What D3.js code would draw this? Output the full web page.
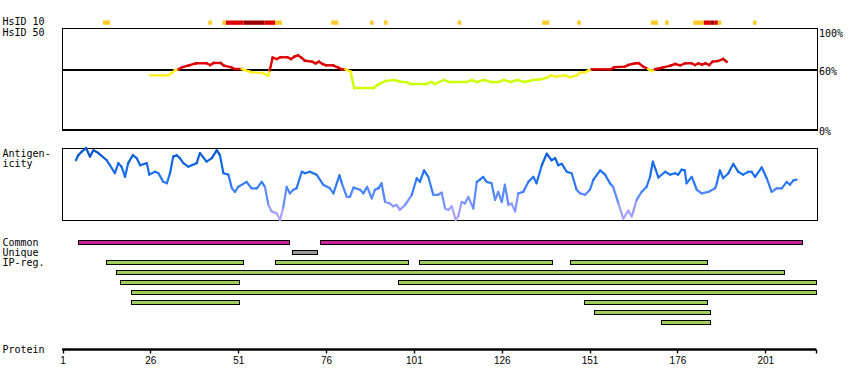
<!DOCTYPE html>
<html><head><meta charset="utf-8">
<script src="https://cdn.jsdelivr.net/npm/d3@7"></script>
<style>body{margin:0;background:#fff}</style>
</head><body>
<svg id="c" width="850" height="390"></svg>
<script>
// ---------- DATA ----------
const proteinLength = 215;
const tickValues = [1, 26, 51, 76, 101, 126, 151, 176, 201];
const identityTicks = [100, 60, 0];
const identityThreshold = 60;

// HsID 10 blocks (residue ranges, identity level 1=low,2=mid,3=high)
const hsid10Start = [13, 43, 47, 48, 53, 59, 62, 78, 89, 93, 114, 138, 148, 169, 173, 181, 184, 186, 187, 188, 198];
const hsid10End   = [14, 43, 47, 52, 58, 61, 63, 79, 89, 93, 114, 139, 148, 170, 173, 183, 185, 186, 187, 188, 198];
const hsid10Level = [1, 1, 1, 2, 3, 2, 1, 1, 1, 1, 1, 1, 1, 1, 1, 1, 2, 3, 2, 1, 1];

// HsID 50 identity profile (%)
const hsid50Pos = [26,31,32,33,34,35,37,39,42,43,44,46,47,49,50,52,53,54,55,58,59.5,60,60.8,62,63,65,66,67,68,69,70,72,73,74,75,76,78,79.5,80.5,81.5,82,83,83.3,84,89.5,90.5,91.5,93,95.5,97,99,100,104.5,106,107,109.5,111,116,117.5,119,121,123,125,126.5,128.5,130.5,132.5,135,137,139,140,141.5,144,145.5,147.4,148.3,149.7,150.6,151.6,157,158,161,162,164,165,166.3,167.7,168.7,169.6,170.6,172,174,175.3,176.8,178.2,180,181,182,183,184,185,186,187.5,189,190];
const hsid50Val = [54.7,54.7,56.7,59.7,60.7,62.7,64.7,66.7,66.7,65,67,67,64.3,62.7,61,61,59.7,58.7,57.7,57,54.3,60,72.3,71,72.7,72.7,71,73.3,74.7,72.3,69.3,68.3,66.7,68.3,66,64.7,64.7,62.3,60.7,60.7,59.8,58.3,53.3,42,42,44.7,46.7,49,50,48.3,47.7,46,46,48,46,50,48,48,50,48,50,48,48,50,48,50,48,50,50.7,52.3,54.7,53.3,54.7,52.7,54.7,57.3,57.7,59.3,60.7,60.7,62.7,63.3,65,66.7,66.7,63.3,61,59,60.7,61.3,62.7,64.3,66,64.7,66.7,66.7,65,66.7,65.3,66.7,65,68.3,69,71,68.3];

// Antigenicity profile (relative score 0-100)
const antiPos = [4.8,5.5,6.5,7.7,8.8,9.8,11.2,13.6,14.5,15.9,16.9,17.8,18.8,19.7,21.0,22.1,23.1,25.0,25.7,27.3,28.3,29.7,30.7,31.6,32.5,33.5,34.4,35.4,36.8,37.8,39.2,40.1,42.0,43.5,44.9,45.8,46.8,48.2,49.2,50.1,51.0,53.4,54.8,56.3,57.7,58.6,59.6,60.5,62.0,62.9,63.8,64.8,65.7,66.7,67.6,69.1,70.0,71.4,73.3,75.2,77.1,78.1,79.8,80.5,81.9,82.8,83.8,85.7,86.6,87.7,89.0,89.9,90.9,91.8,92.8,94.2,95.1,96.1,97.0,98.5,100.4,101.8,102.7,103.9,105.1,106.5,107.9,108.9,109.9,110.8,111.8,112.9,113.6,114.6,115.5,116.5,117.9,118.9,119.8,120.7,121.7,123.1,124.1,125.0,126.0,126.9,127.9,128.8,129.8,130.7,132.1,133.6,135.0,135.9,137.4,138.8,140.2,141.2,142.1,143.1,144.5,145.9,147.3,148.3,149.7,151.1,152.1,154.0,155.4,156.8,157.7,159.2,160.6,162.0,163.0,164.4,165.8,167.2,168.2,169.0,170.6,172.5,173.9,175.3,176.2,177.2,178.1,178.6,180.1,181.5,182.9,184.8,186.7,187.2,188.1,189.0,190.5,191.9,193.3,194.7,196.2,197.1,198.1,200.0,201.4,202.8,204.2,205.7,207.1,208.0,209.0,209.9];
const antiVal = [83,90,95,100,88,97,93,83,76,65,79,74,60,79,90,86,76,79,63,67,65,53,51,65,88,90,86,79,74,76,79,93,81,86,97,90,65,63,44,39,46,53,44,44,53,46,21,12,9,0,17,46,37,42,44,67,65,67,63,49,44,37,62,51,32,32,45,42,37,46,30,42,44,51,25,23,19,21,14,21,35,58,53,69,60,35,35,38,16,14,19,0,5,25,23,32,16,53,56,60,53,51,28,39,25,49,21,23,12,37,39,53,60,51,76,92,83,86,76,78,67,65,42,37,35,42,56,69,63,51,46,23,2,13,5,28,39,46,60,81,59,67,63,65,63,70,69,51,60,42,37,39,44,51,69,58,65,78,67,63,67,67,60,73,58,39,44,44,53,49,55,56];

// Region tracks (residue ranges)
const commonStart = [6, 75];
const commonEnd   = [65, 211];
const uniqueStart = [67];
const uniqueEnd   = [73];
const ipRow   = [0, 0, 0, 0, 1, 2, 2, 3, 4, 4, 5, 6];
const ipStart = [14, 62, 103, 146, 17, 18, 97, 21, 21, 150, 153, 172];
const ipEnd   = [52, 99, 140, 184, 206, 51, 215, 215, 51, 184, 185, 185];

// ---------- DRAWING ----------
const svg = d3.select("#c");
const mono = "'DejaVu Sans Mono', monospace";
const x = d3.scaleLinear().domain([1, 216]).range([62.5, 818]);

const yId = d3.scaleLinear().domain([0, 100]).range([130, 30]);
const yAn = d3.scaleLinear().domain([0, 100]).range([220, 148]);

// left labels
const labels = [["HsID 10", 25], ["HsID 50", 36], ["Antigen-", 157], ["icity", 167],
                ["Common", 246], ["Unique", 256], ["IP-reg.", 266], ["Protein", 353]];
svg.selectAll("text.lab").data(labels).join("text")
  .attr("class", "lab").attr("x", 2.5).attr("y", d => d[1])
  .attr("font-family", mono).attr("font-size", 10).attr("fill", "#000")
  .text(d => d[0]);

// HsID 10 blocks
const lvlColor = {1: "#ffc926", 2: "#dd0000", 3: "#990000"};
svg.append("g").selectAll("rect").data(hsid10Start.map((s, i) => [s, hsid10End[i], hsid10Level[i]]))
  .join("rect")
  .attr("x", d => x(d[0] - 0.5)).attr("width", d => x(d[1] + 0.5) - x(d[0] - 0.5))
  .attr("y", 20.5).attr("height", 4.3)
  .attr("fill", d => lvlColor[d[2]]);

// HsID 50 box
svg.append("rect").attr("x", 62.5).attr("y", 28.5).attr("width", 755).attr("height", 101.5)
  .attr("fill", "none").attr("stroke", "#000").attr("stroke-width", 1.2).attr("shape-rendering", "crispEdges");
svg.append("line").attr("x1", 62.5).attr("x2", 817.5).attr("y1", yId(identityThreshold)).attr("y2", yId(identityThreshold))
  .attr("stroke", "#000").attr("stroke-width", 1.2).attr("shape-rendering", "crispEdges");
svg.selectAll("text.pct").data(identityTicks).join("text")
  .attr("class", "pct").attr("x", 819).attr("y", d => Math.min(yId(d) + 5, 134.5) + (d === 100 ? 1.5 : 0))
  .attr("font-family", mono).attr("font-size", 10).text(d => d + "%");

const idCol = v => v >= identityThreshold ? "#dd0000"
  : d3.interpolateRgb("#ccff00", "#ffee22")(Math.max(0, Math.min(1, (v - 49) / 6)));
const idSegs = d3.pairs(hsid50Pos.map((p, i) => [p, hsid50Val[i]]));
svg.append("g").selectAll("line").data(idSegs).join("line")
  .attr("x1", d => x(d[0][0])).attr("y1", d => yId(d[0][1]))
  .attr("x2", d => x(d[1][0])).attr("y2", d => yId(d[1][1]))
  .attr("stroke", d => idCol(Math.min(d[0][1], d[1][1]) >= identityThreshold ? d[0][1] : Math.min(d[0][1], d[1][1])))
  .attr("stroke-width", 2.4).attr("stroke-linecap", "square");

// Antigenicity box
svg.append("rect").attr("x", 62.5).attr("y", 148.5).attr("width", 755).attr("height", 72)
  .attr("fill", "none").attr("stroke", "#000").attr("stroke-width", 1.2).attr("shape-rendering", "crispEdges");
const anCol = d3.scaleLinear().domain([0, 15, 30, 45, 65, 85, 100])
  .range(["#b8a8ff", "#9c9cff", "#6a90ff", "#3a80f8", "#1a6ff0", "#0e62d8", "#0052c2"]);
const anSegs = d3.pairs(antiPos.map((p, i) => [p, antiVal[i]]));
svg.append("g").selectAll("line").data(anSegs).join("line")
  .attr("x1", d => x(d[0][0])).attr("y1", d => yAn(d[0][1]))
  .attr("x2", d => x(d[1][0])).attr("y2", d => yAn(d[1][1]))
  .attr("stroke", d => anCol((d[0][1] + d[1][1]) / 2))
  .attr("stroke-width", 2.2).attr("stroke-linecap", "round");

// Region bars
function bars(starts, ends, rows, y0, fill) {
  svg.append("g").selectAll("rect").data(starts.map((s, i) => [s, ends[i], rows ? rows[i] : 0]))
    .join("rect")
    .attr("x", d => x(d[0] - 0.5)).attr("width", d => x(d[1] + 0.5) - x(d[0] - 0.5))
    .attr("y", d => y0 + d[2] * 10 + 0.5).attr("height", 4)
    .attr("fill", fill).attr("stroke", "#000").attr("stroke-width", 1)
    .attr("shape-rendering", "crispEdges");
}
bars(commonStart, commonEnd, null, 240, "#cc2299");
bars(uniqueStart, uniqueEnd, null, 250, "#999999");
bars(ipStart, ipEnd, ipRow, 260, "#a0cc5a");

// Protein axis
const axY = 349.5;
svg.append("line").attr("x1", x(0.9)).attr("x2", x(proteinLength + 0.5)).attr("y1", axY).attr("y2", axY)
  .attr("stroke", "#000").attr("stroke-width", 2.6);
const tickPos = tickValues.concat([proteinLength + 0.5]);
svg.append("g").selectAll("line").data(tickPos).join("line")
  .attr("x1", d => Math.round(x(d)) + 0.5).attr("x2", d => Math.round(x(d)) + 0.5)
  .attr("y1", axY).attr("y2", 353.5).attr("stroke", "#000").attr("stroke-width", 1.4);
svg.append("g").selectAll("text").data(tickValues).join("text")
  .attr("x", d => x(d) + 0.5).attr("y", 364).attr("text-anchor", "middle")
  .attr("font-family", "'Liberation Sans', Arial, sans-serif").attr("font-size", 10)
  .text(d => d);
</script>
</body></html>
